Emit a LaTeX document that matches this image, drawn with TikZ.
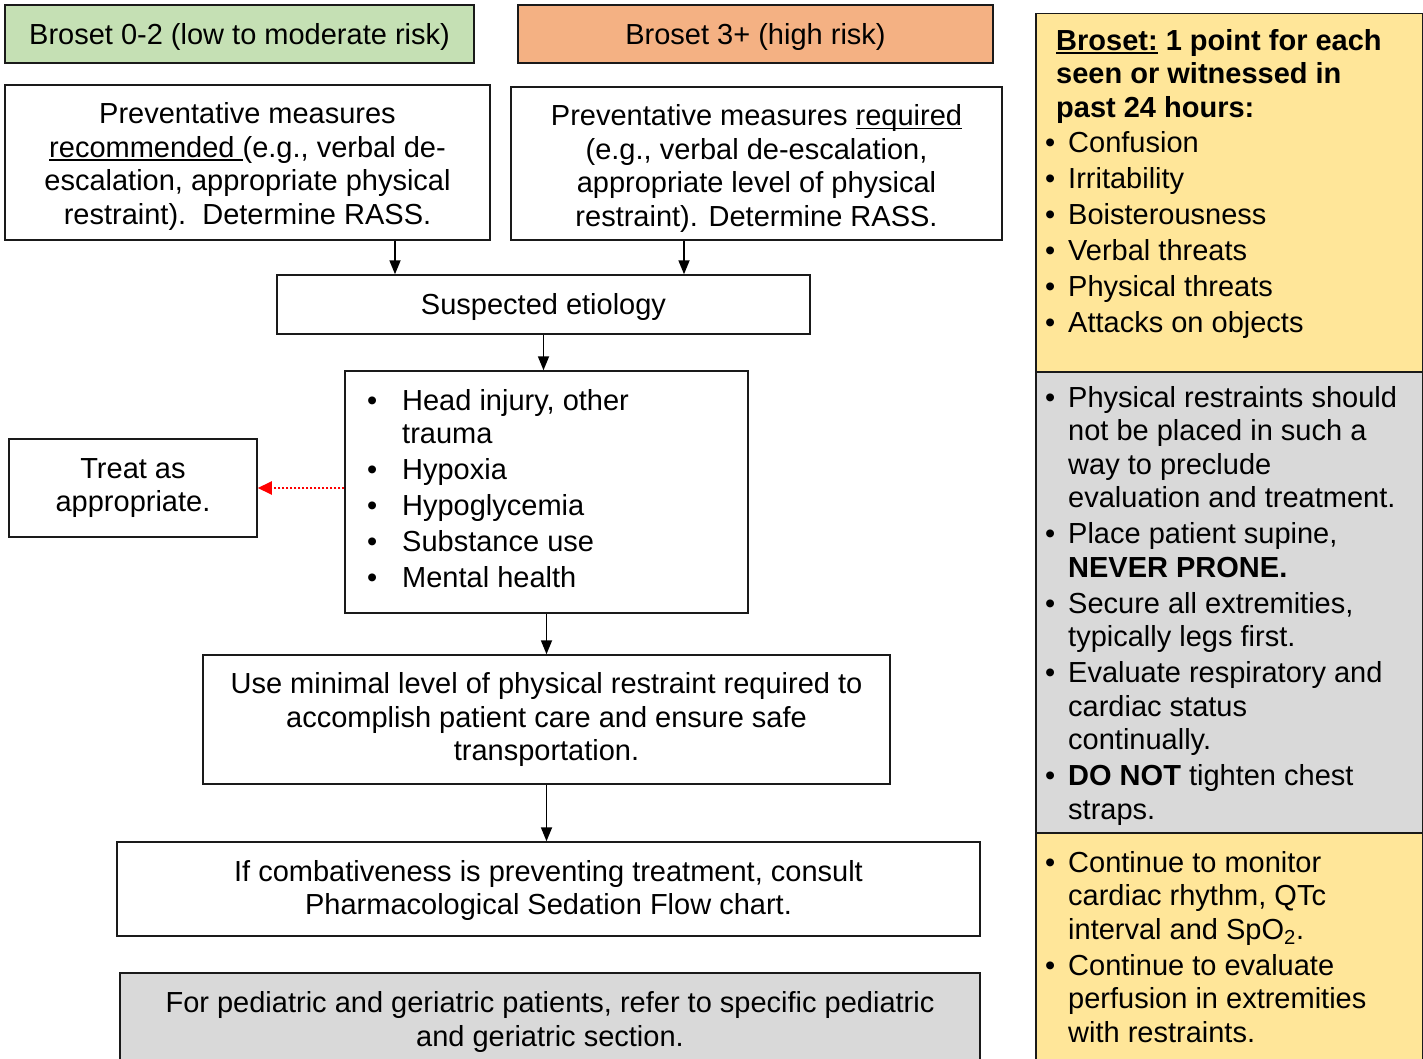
\documentclass[tikz,border=0pt]{standalone}
\usepackage{fontspec}
\setmainfont{Liberation Sans}
\usetikzlibrary{arrows.meta}
\definecolor{boxgreen}{HTML}{C5E0B4}
\definecolor{boxorange}{HTML}{F4B183}
\definecolor{boxyellow}{HTML}{FFE699}
\definecolor{boxgray}{HTML}{D9D9D9}
\definecolor{linecol}{HTML}{1A1A1A}
% underline that runs through descenders, as in a word processor
\newcommand\ulword[1]{\setbox0\hbox{#1}\rlap{\rule[-4pt]{\wd0}{1.8pt}}\box0\relax}
% invisible strut that lowers the text block inside its box
\newcommand\lift[1]{\rule{0pt}{#1pt}}
% bullet items for the side panel and the etiology list
\newcommand\sbul{\makebox[23pt][l]{\textbullet}}
\newcommand\sind{\hspace*{23pt}}
\newcommand\cbul{\makebox[35pt][l]{\textbullet}}
\newcommand\cind{\hspace*{35pt}}
\begin{document}
\begin{tikzpicture}[x=1pt,y=-1pt,
  font=\fontsize{29}{33.7}\selectfont,
  box/.style={draw=linecol, line width=1.5pt, fill=white, inner sep=0pt, align=center},
  listtext/.style={anchor=base west, align=left, inner sep=0pt, font=\fontsize{29}{33.5}\selectfont},
  arr/.style={draw=black, line width=1.8pt, -{Triangle[length=14pt,width=11pt]}},
  redarr/.style={draw=red, line width=2pt, dash pattern=on 2pt off 2pt, -{Triangle[length=14pt,width=13pt]}}]
\useasboundingbox (0,0) rectangle (1423,1059);
\clip (0,0) rectangle (1423,1059);

% risk headers
\node[box, fill=boxgreen, minimum width=469pt, minimum height=58pt] (g) at (239.5,34) {\lift{27}Broset 0-2 (low to moderate risk)};
\node[box, fill=boxorange, minimum width=475pt, minimum height=58pt] (o) at (755.5,34) {\lift{27}Broset 3+ (high risk)};

% preventative measures
\node[box, minimum width=485pt, minimum height=155pt] (pl) at (247.5,162.5)
  {\lift{29}Preventative measures\\\ulword{recommended }(e.g., verbal de-\\escalation, appropriate physical\\restraint).\ \ Determine RASS.};
\node[box, minimum width=491pt, minimum height=153pt] (pr) at (756.5,163.5)
  {\lift{31}Preventative measures \ulword{required}\\(e.g., verbal de-escalation,\\appropriate level of physical\\restraint). Determine RASS.};

\node[box, minimum width=533pt, minimum height=59pt] (se) at (543.5,304.5) {\lift{27}Suspected etiology};

% etiology list
\node[box, minimum width=403pt, minimum height=242pt] (lst) at (546.5,492) {};
\node[listtext] (lsttxt) at (367,587.5)
  {\cbul Head injury, other\\\cind trauma\\[2.5pt]\cbul Hypoxia\\[2.5pt]\cbul Hypoglycemia\\[2.5pt]\cbul Substance use\\[2.5pt]\cbul Mental health};

\node[box, minimum width=248pt, minimum height=98pt] (tr) at (133,488) {Treat as\\appropriate.};

\node[box, minimum width=687pt, minimum height=129pt] (use) at (546.5,719.5)
  {Use minimal level of physical restraint required to\\accomplish patient care and ensure safe\\transportation.};
\node[box, minimum width=863pt, minimum height=94pt] (comb) at (548.5,889)
  {\lift{24}If combativeness is preventing treatment, consult\\Pharmacological Sedation Flow chart.};
\node[box, fill=boxgray, minimum width=860pt, minimum height=92pt] (peds) at (550,1019)
  {\lift{27}For pediatric and geriatric patients, refer to specific pediatric\\and geriatric section.};

% side panel
\node[box, fill=boxyellow, minimum width=387pt, minimum height=358pt, anchor=north west] (brs) at (1035,13) {};
\node[box, fill=boxgray, minimum width=387pt, minimum height=461pt, anchor=north west] (rules) at (1035,371) {};
\node[box, fill=boxyellow, minimum width=387pt, minimum height=240pt, anchor=north west] (mon) at (1035,832) {};

% list nodes are placed by the baseline of their last line
\node[listtext] (brstxt) at (1045,332)
  {\hspace*{11pt}\textbf{\ulword{Broset:} 1 point for each}\\
   \hspace*{11pt}\textbf{seen or witnessed in}\\
   \hspace*{11pt}\textbf{past 24 hours:}\\[1.5pt]
   \sbul Confusion\\[2.5pt]\sbul Irritability\\[2.5pt]\sbul Boisterousness\\[2.5pt]
   \sbul Verbal threats\\[2.5pt]\sbul Physical threats\\[2.5pt]\sbul Attacks on objects};

\node[listtext] (rulestxt) at (1045,819)
  {\sbul Physical restraints should\\\sind not be placed in such a\\\sind way to preclude\\\sind evaluation and treatment.\\[2.5pt]
   \sbul Place patient supine,\\\sind\textbf{NEVER PRONE.}\\[2.5pt]
   \sbul Secure all extremities,\\\sind typically legs first.\\[2.5pt]
   \sbul Evaluate respiratory and\\\sind cardiac status\\\sind continually.\\[2.5pt]
   \sbul\textbf{DO NOT} tighten chest\\\sind straps.};

\node[listtext] (montxt) at (1045,1042)
  {\sbul Continue to monitor\\\sind cardiac rhythm, QTc\\\sind interval and SpO\textsubscript{2}.\\[2.5pt]
   \sbul Continue to evaluate\\\sind perfusion in extremities\\\sind with restraints.};

% connectors
\coordinate (a1) at ([xshift=147.5pt]pl.south);
\coordinate (a2) at ([xshift=-72.5pt]pr.south);
\draw[arr] (a1) -- (a1 |- se.north);
\draw[arr] (a2) -- (a2 |- se.north);
\draw[arr] (se.south) -- (se.south |- lst.north);
\draw[arr] (lst.south) -- (lst.south |- use.north);
\draw[arr] (use.south) -- (use.south |- comb.north);
\draw[redarr] (lst.west |- tr.east) -- (tr.east);
\end{tikzpicture}
\end{document}
